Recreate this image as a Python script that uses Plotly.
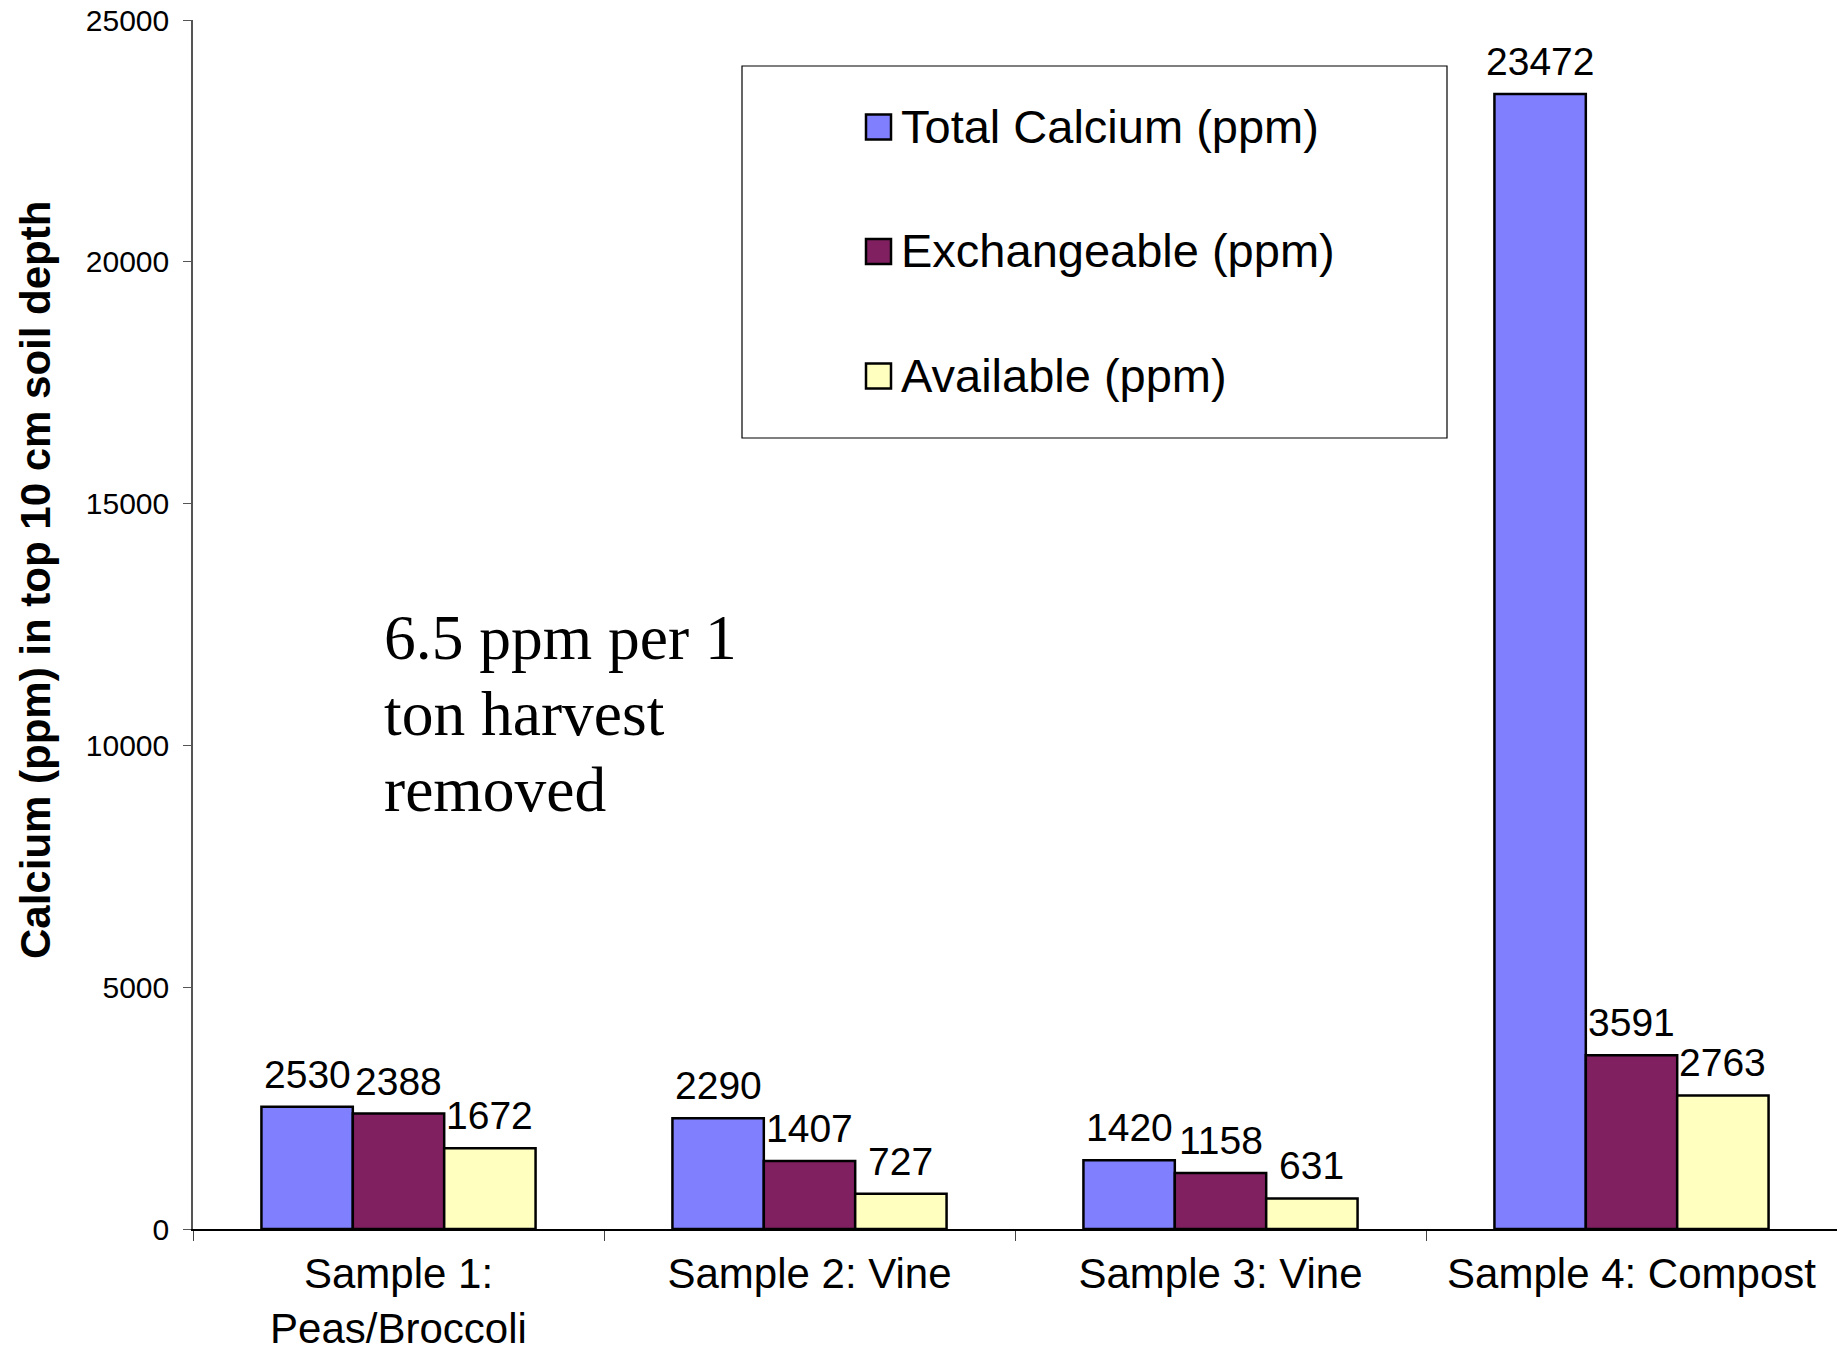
import plotly.graph_objects as go

categories = ["Sample 1:<br>Peas/Broccoli", "Sample 2: Vine", "Sample 3: Vine", "Sample 4: Compost"]
series_names = ["Total Calcium (ppm)", "Exchangeable (ppm)", "Available (ppm)"]
total_calcium = [2530, 2290, 1420, 23472]
exchangeable = [2388, 1407, 1158, 3591]
available = [1672, 727, 631, 2763]
y_ticks = [0, 5000, 10000, 15000, 20000, 25000]
y_tick_labels = ["0", "5000", "10000", "15000", "20000", "25000"]
colors = ["#8080FF", "#802060", "#FFFFC0"]
note_lines = ["6.5 ppm per 1", "ton harvest", "removed"]
y_title = "Calcium (ppm) in top 10 cm soil depth"

W, H = 1837, 1347
L, R, T, B = 193, 0, 20, 118
PW, PH = W - L - R, H - T - B
BARGAP = 0.333


def px_x(px):
    return (px - L) / PW


def px_y(py):
    return (H - B - py) / PH


series_values = [total_calcium, exchangeable, available]
n_series = len(series_values)
bar_w_px = PW / len(categories) * (1 - BARGAP) / n_series

fig = go.Figure()
annotations = []
for i, (name, vals) in enumerate(zip(series_names, series_values)):
    fig.add_trace(go.Bar(
        x=categories, y=vals, name=name,
        marker=dict(color=colors[i], line=dict(color="black", width=2.5)),
        cliponaxis=False, showlegend=False,
    ))
    # value labels, anchored to each bar's data value
    for cat, v in zip(categories, vals):
        annotations.append(dict(
            text=str(v), x=cat, y=v, xref="x", yref="y",
            xshift=(i - (n_series - 1) / 2) * bar_w_px, yshift=9,
            xanchor="center", yanchor="bottom", showarrow=False,
            font=dict(family="Liberation Sans, Arial", size=39, color="black")))

shapes = [dict(type="rect", xref="paper", yref="paper",
               x0=px_x(742), x1=px_x(1447), y0=px_y(438), y1=px_y(66),
               line=dict(color="black", width=1.2), fillcolor="rgba(0,0,0,0)", layer="below")]

# legend (drawn as a boxed key)
row_y = [127, 251.5, 376]
for i, name in enumerate(series_names):
    cy = row_y[i]
    shapes.append(dict(type="rect", xref="paper", yref="paper",
                       x0=px_x(866), x1=px_x(891), y0=px_y(cy + 12.5), y1=px_y(cy - 12.5),
                       line=dict(color="black", width=2.5), fillcolor=colors[i]))
    annotations.append(dict(text=name, xref="paper", yref="paper", x=px_x(899), y=px_y(cy - 1),
                            xanchor="left", yanchor="middle", showarrow=False,
                            font=dict(family="Liberation Sans, Arial", size=47, color="black")))

# note text
note_y0, note_dy = 637, 76
for j, line in enumerate(note_lines):
    annotations.append(dict(text=line, xref="paper", yref="paper", x=px_x(382), y=px_y(note_y0 + j * note_dy),
                            xanchor="left", yanchor="middle", showarrow=False,
                            font=dict(family="Liberation Serif, Times New Roman", size=63.5, color="black")))

annotations.append(dict(text="<b>" + y_title + "</b>", xref="paper", yref="paper",
                        x=px_x(35), y=px_y(580),
                        xanchor="center", yanchor="middle", textangle=-90, showarrow=False,
                        font=dict(family="Liberation Sans, Arial", size=42, color="black")))

fig.update_layout(
    width=W, height=H,
    margin=dict(l=L, r=R, t=T, b=B, pad=0, autoexpand=False),
    paper_bgcolor="white", plot_bgcolor="white",
    barmode="group", bargap=BARGAP, bargroupgap=0,
    font=dict(family="Liberation Sans, Arial", color="black"),
    showlegend=False,
    xaxis=dict(
        type="category", showline=True, linecolor="black", linewidth=1.5,
        ticks="outside", tickson="boundaries", ticklen=10, tickcolor="#444",
        tickfont=dict(family="Liberation Sans, Arial", size=42, color="black"),
        ticklabelstandoff=7, automargin=False,
        showgrid=False, zeroline=False,
    ),
    yaxis=dict(
        range=[0, 25000], tickvals=y_ticks, ticktext=y_tick_labels,
        showline=True, linecolor="#555", linewidth=1.5,
        ticks="outside", ticklen=8, tickcolor="#555",
        tickfont=dict(family="Liberation Sans, Arial", size=30, color="black"),
        ticklabelstandoff=8, automargin=False,
        showgrid=False, zeroline=False,
    ),
    shapes=shapes,
    annotations=annotations,
)

fig.write_html("out.html")
